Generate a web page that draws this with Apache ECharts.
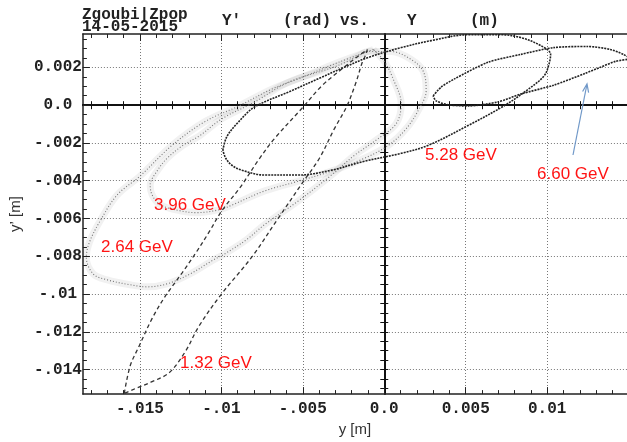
<!DOCTYPE html>
<html><head><meta charset="utf-8">
<script src="https://cdn.jsdelivr.net/npm/echarts@6/dist/echarts.min.js"></script>
<style>html,body{margin:0;padding:0;background:#fff}#c{width:627px;height:442px}</style>
</head><body><div id="c"></div>
<script>
// ---- tick values / labels ----
const xTickValues = [-0.015, -0.01, -0.005, 0, 0.005, 0.01];
const xTickLabels = ['-.015', '-.01', '-.005', '0.0', '0.005', '0.01'];
const yTickValues = [0.002, 0, -0.002, -0.004, -0.006, -0.008, -0.01, -0.012, -0.014];
const yTickLabels = ['0.002', '0.0', '-.002', '-.004', '-.006', '-.008', '-.01', '-.012', '-.014'];
const xMinorTicks = [-0.018,-0.017,-0.016,-0.015,-0.014,-0.013,-0.012,-0.011,-0.01,-0.009,-0.008,-0.007,-0.006,-0.005,-0.004,-0.003,-0.002,-0.001,0,0.001,0.002,0.003,0.004,0.005,0.006,0.007,0.008,0.009,0.01,0.011,0.012,0.013,0.014];
const yMinorTicks = [0.0035,0.003,0.0025,0.002,0.0015,0.001,0.0005,0,-0.0005,-0.001,-0.0015,-0.002,-0.0025,-0.003,-0.0035,-0.004,-0.0045,-0.005,-0.0055,-0.006,-0.0065,-0.007,-0.0075,-0.008,-0.0085,-0.009,-0.0095,-0.01,-0.0105,-0.011,-0.0115,-0.012,-0.0125,-0.013,-0.0135,-0.014,-0.0145,-0.015];

// ---- phase-space ellipses (y [m], y' [rad]) ----
const e132 = [
[-0.01596,-0.01527],[-0.01560,-0.01381],[-0.01505,-0.01276],[-0.01425,-0.01129],[-0.01346,-0.01014],[-0.01242,-0.00889],[-0.01162,-0.00789],[-0.01077,-0.00674],[-0.00997,-0.00559],[-0.00887,-0.00438],[-0.00765,-0.00281],[-0.00673,-0.00176],[-0.00508,-0.00019],[-0.00385,0.00101],[-0.00263,0.00190],[-0.00171,0.00253],[-0.00104,0.00295],
[-0.00116,0.00263],[-0.00135,0.00227],[-0.00177,0.00112],[-0.00232,-0.00009],[-0.00306,-0.00124],[-0.00398,-0.00281],[-0.00495,-0.00402],[-0.00648,-0.00595],[-0.00814,-0.00805],[-0.01003,-0.01004],[-0.01138,-0.01171],[-0.01223,-0.01307],[-0.01321,-0.01417],[-0.01425,-0.01464],[-0.01529,-0.01501],[-0.01596,-0.01527]
];
const e264 = [
[-0.00067,0.00295],[-0.00281,0.00227],[-0.00489,0.00153],[-0.00691,0.00085],[-0.00893,-0.00004],[-0.01101,-0.00087],[-0.01303,-0.00213],[-0.01499,-0.00375],[-0.01639,-0.00475],[-0.01743,-0.00611],[-0.01810,-0.00726],[-0.01829,-0.00805],[-0.01786,-0.00894],[-0.01700,-0.00925],[-0.01560,-0.00951],[-0.01456,-0.00962],[-0.01333,-0.00946],[-0.01193,-0.00894],[-0.01052,-0.00821],[-0.00973,-0.00784],[-0.00844,-0.00711],[-0.00734,-0.00632],[-0.00526,-0.00506],[-0.00324,-0.00370],[-0.00184,-0.00266],[-0.00037,-0.00177],[0.00073,-0.00098],[0.00104,0.00007],[0.00055,0.00138],[0.00000,0.00232],[-0.00067,0.00295]
];
const e396 = [
[-0.00110,0.00284],[-0.00281,0.00211],[-0.00587,0.00122],[-0.00795,0.00017],[-0.00997,-0.00072],[-0.01132,-0.00161],[-0.01236,-0.00213],[-0.01333,-0.00281],[-0.01395,-0.00349],[-0.01437,-0.00423],[-0.01425,-0.00475],[-0.01376,-0.00527],[-0.01254,-0.00559],[-0.01150,-0.00569],[-0.01009,-0.00553],[-0.00930,-0.00527],[-0.00734,-0.00454],[-0.00526,-0.00402],[-0.00324,-0.00349],[-0.00122,-0.00281],[0.00025,-0.00213],[0.00135,-0.00124],[0.00214,-0.00019],[0.00257,0.00075],[0.00239,0.00180],[0.00165,0.00242],[0.00043,0.00284],[-0.00110,0.00284]
];
const e528 = [
[-0.00991,-0.00239],[-0.00966,-0.00166],[-0.00893,-0.00087],[-0.00795,-0.00009],[-0.00587,0.00070],[-0.00385,0.00148],[-0.00245,0.00201],[-0.00098,0.00253],[0.00104,0.00305],[0.00288,0.00342],[0.00514,0.00373],[0.00716,0.00373],[0.00838,0.00358],[0.00960,0.00316],[0.01021,0.00269],[0.01009,0.00211],[0.00979,0.00153],[0.00869,0.00075],[0.00734,-0.00004],[0.00514,-0.00108],[0.00269,-0.00213],[0.00104,-0.00255],[-0.00122,-0.00297],[-0.00324,-0.00344],[-0.00526,-0.00370],[-0.00734,-0.00370],[-0.00875,-0.00344],[-0.00936,-0.00318],[-0.00973,-0.00281],[-0.00991,-0.00239]
];
const e660 = [
[0.00300,0.00049],[0.00349,0.00096],[0.00428,0.00138],[0.00636,0.00227],[0.00838,0.00269],[0.01040,0.00305],[0.01248,0.00311],[0.01388,0.00295],[0.01468,0.00269],[0.01505,0.00248],[0.01419,0.00232],[0.01327,0.00201],[0.01235,0.00169],[0.01040,0.00106],[0.00838,0.00059],[0.00697,0.00017],[0.00514,-0.00004],[0.00391,0.00002],[0.00318,0.00023],[0.00300,0.00049]
];
const energyLabels = ['1.32 GeV', '2.64 GeV', '3.96 GeV', '5.28 GeV', '6.60 GeV'];

const X_MIN = -0.0185, X_MAX = 0.0149, Y_MIN = -0.0153, Y_MAX = 0.00377;
const monoFont = 'Liberation Mono';
const near = (a, b) => Math.abs(a - b) < 1e-9;
const fmtX = v => { const i = xTickValues.findIndex(t => near(t, v)); return i >= 0 ? xTickLabels[i] : ''; };
const fmtY = v => { const i = yTickValues.findIndex(t => near(t, v)); return i >= 0 ? yTickLabels[i] : ''; };

function xAx(extra) {
  return Object.assign({ type: 'value', min: X_MIN, max: X_MAX, axisLabel: { show: false }, splitLine: { show: false } }, extra);
}
function yAx(extra) {
  return Object.assign({ type: 'value', min: Y_MIN, max: Y_MAX, axisLabel: { show: false }, splitLine: { show: false } }, extra);
}
const gridDots = { show: true, lineStyle: { color: '#777', width: 1, type: [1, 2] } };

const xAxes = [
  xAx({ position: 'bottom', axisLine: { show: true, onZero: false, lineStyle: { color: '#222', width: 1.5 } },
    axisTick: { show: true, inside: true, length: 7, customValues: xTickValues, lineStyle: { color: '#222' } },
    axisLabel: { show: true, customValues: xTickValues, formatter: fmtX, margin: 7,
      fontFamily: monoFont, fontWeight: 'bold', fontSize: 16, color: '#222' },
    splitLine: gridDots,
    name: 'y [m]', nameLocation: 'middle', nameGap: 27,
    nameTextStyle: { fontFamily: 'Liberation Sans', fontSize: 15, color: '#333' } }),
  xAx({ position: 'bottom', axisLine: { show: false, onZero: false },
    axisTick: { show: true, inside: true, length: 4, customValues: xMinorTicks, lineStyle: { color: '#222' } } }),
  xAx({ position: 'top', axisLine: { show: true, onZero: false, lineStyle: { color: '#222', width: 1.5 } },
    axisTick: { show: true, inside: true, length: 7, customValues: xTickValues, lineStyle: { color: '#222' } } }),
  xAx({ position: 'top', axisLine: { show: false, onZero: false },
    axisTick: { show: true, inside: true, length: 4, customValues: xMinorTicks, lineStyle: { color: '#222' } } }),
  xAx({ position: 'bottom', axisLine: { show: true, onZero: true, onZeroAxisIndex: 0, lineStyle: { color: '#111', width: 2 } },
    axisTick: { show: true, inside: true, length: 4, customValues: xMinorTicks, lineStyle: { color: '#111' } } }),
  xAx({ position: 'bottom', axisLine: { show: false, onZero: true, onZeroAxisIndex: 0 },
    axisTick: { show: true, inside: false, length: 4, customValues: xMinorTicks, lineStyle: { color: '#111' } } })
];
const yAxes = [
  yAx({ position: 'left', axisLine: { show: true, onZero: false, lineStyle: { color: '#222', width: 1.5 } },
    axisTick: { show: true, inside: true, length: 7, customValues: yTickValues, lineStyle: { color: '#222' } },
    axisLabel: { show: true, customValues: yTickValues, formatter: fmtY, margin: 25, align: 'center',
      fontFamily: monoFont, fontWeight: 'bold', fontSize: 16, color: '#222' },
    splitLine: gridDots,
    name: 'y\u2019 [m]', nameLocation: 'middle', nameGap: 57,
    nameTextStyle: { fontFamily: 'Liberation Sans', fontSize: 15, color: '#333' } }),
  yAx({ position: 'left', axisLine: { show: false, onZero: false },
    axisTick: { show: true, inside: true, length: 4, customValues: yMinorTicks, lineStyle: { color: '#222' } } }),
  yAx({ position: 'left', axisLine: { show: true, onZero: true, onZeroAxisIndex: 0, lineStyle: { color: '#111', width: 2 } },
    axisTick: { show: true, inside: true, length: 4, customValues: yMinorTicks, lineStyle: { color: '#111' } } }),
  yAx({ position: 'left', axisLine: { show: false, onZero: true, onZeroAxisIndex: 0 },
    axisTick: { show: true, inside: false, length: 4, customValues: yMinorTicks, lineStyle: { color: '#111' } } })
];

function crisp(data, color, width, dash, smooth) {
  return { type: 'line', data: data, smooth: smooth, showSymbol: false, symbol: 'none', silent: true, clip: true,
    lineStyle: { color: color, width: width, type: dash }, z: 5 };
}
function fuzzyBand(data) {
  return { type: 'line', data: data, smooth: 0.35, showSymbol: false, symbol: 'none', silent: true, clip: true,
    lineStyle: { color: 'rgba(0,0,0,0.055)', width: 7 }, z: 3 };
}
const series = [
  fuzzyBand(e264), crisp(e264, '#777', 1.1, [1, 2], 0.35),
  fuzzyBand(e396), crisp(e396, '#777', 1.1, [1, 2], 0.35),
  crisp(e132, '#333', 1.3, [4, 3], 0.35),
  crisp(e528, '#222', 1.6, [2, 1], 0.35),
  crisp(e660, '#222', 1.6, [2, 1], 0.25)
];

const redFont = '17px "Liberation Sans"';
function redText(txt, x, y) {
  return { type: 'text', x: x, y: y, z: 20, style: { text: txt, font: redFont, fill: '#ff1414', verticalAlign: 'middle', textAlign: 'left' } };
}
function titleText(txt, x, y) {
  return { type: 'text', x: x, y: y, z: 20, style: { text: txt, font: 'bold 16px "Liberation Mono"', fill: '#222', verticalAlign: 'middle', textAlign: 'left' } };
}
const graphics = [
  titleText('Zgoubi|Zpop', 82, 15),
  titleText('14-05-2015', 82, 27),
  titleText("Y'", 222, 21),
  titleText('(rad)', 283, 21),
  titleText('vs.', 340, 21),
  titleText('Y', 407, 21),
  titleText('(m)', 470, 21),
  redText(energyLabels[0], 180, 363),
  redText(energyLabels[1], 101, 247),
  redText(energyLabels[2], 154, 205),
  redText(energyLabels[3], 425, 155),
  redText(energyLabels[4], 537, 174),
  { type: 'line', z: 20, shape: { x1: 573, y1: 155, x2: 586.8, y2: 85 }, style: { stroke: '#7098c8', lineWidth: 1.2 } },
  { type: 'polyline', z: 20, shape: { points: [[582.6, 91.5], [587, 84], [588.6, 92.6]] }, style: { stroke: '#7098c8', lineWidth: 1.2, fill: null } }
];

const chart = echarts.init(document.getElementById('c'), null, { renderer: 'canvas' });
chart.setOption({
  animation: false,
  backgroundColor: '#fff',
  grid: { left: 81, right: 0, top: 34, bottom: 43 },
  xAxis: xAxes,
  yAxis: yAxes,
  series: series,
  graphic: graphics
});
</script>
</body></html>
